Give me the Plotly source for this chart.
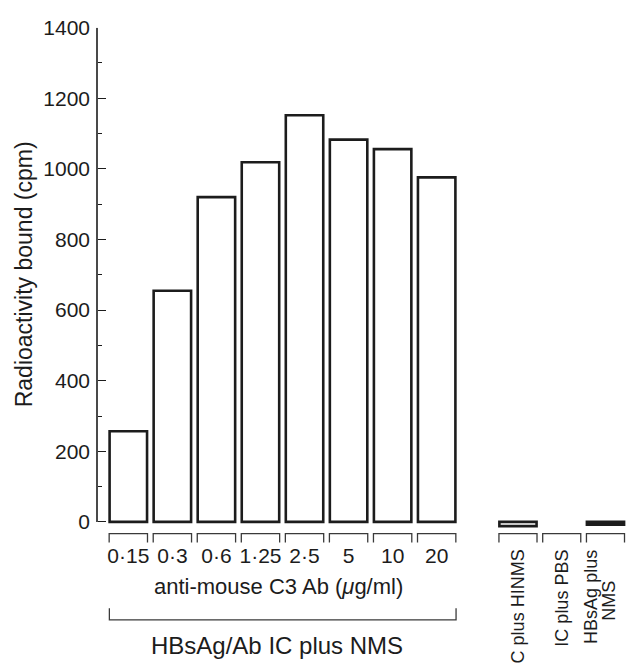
import plotly.graph_objects as go

# ---- data ----
concentrations = ["0·15", "0·3", "0·6", "1·25", "2·5", "5", "10", "20"]
radioactivity = [257, 655, 920, 1019, 1152, 1083, 1056, 976]
control_labels = ["C plus HINMS", "IC plus PBS", "HBsAg plus", "NMS"]
control_values = [12, None, 8]          # near-background counts, drawn just under the baseline
control_fill = ["white", "white", "#1a1a1a"]

W, H = 626, 670
FONT = "Liberation Sans, Arial, Helvetica, sans-serif"
INK = "#1c1c1c"


def px(x):
    return x / W


def py(y):
    return 1 - y / H


xi = list(range(len(concentrations)))
ci = list(range(len(control_values)))

fig = go.Figure()
fig.add_trace(go.Bar(
    x=xi, y=radioactivity, width=0.85,
    marker=dict(color="white", line=dict(color=INK, width=2.6)),
    xaxis="x", yaxis="y", showlegend=False, hoverinfo="y",
))
fig.add_trace(go.Bar(
    x=ci, y=control_values,
    base=[(-v if v is not None else None) for v in control_values],
    width=0.85,
    marker=dict(color=control_fill, line=dict(color=INK, width=2.6)),
    xaxis="x2", yaxis="y", showlegend=False, hoverinfo="skip",
))

tickfont = dict(family=FONT, size=21, color=INK)

fig.update_layout(
    width=W, height=H,
    margin=dict(l=0, r=0, t=0, b=0),
    paper_bgcolor="white", plot_bgcolor="white",
    font=dict(family=FONT, color=INK),
    xaxis=dict(
        domain=[px(106.3), px(458.7)], range=[-0.5, 7.5],
        tickvals=xi, ticktext=concentrations, tickfont=tickfont,
        anchor="free", position=py(539), showline=False, ticks="",
        showgrid=False, zeroline=False, fixedrange=True,
    ),
    xaxis2=dict(
        domain=[px(496.1), 1.0], range=[-0.5, 2.469],
        anchor="free", position=py(539), showticklabels=False, showline=False,
        ticks="", showgrid=False, zeroline=False, fixedrange=True,
    ),
    yaxis=dict(
        domain=[py(530.8), py(16)], range=[-30, 1400],
        anchor="free", position=px(97), side="left",
        showline=False, showgrid=False, zeroline=False,
        tick0=0, dtick=200, ticks="inside", ticklen=8, tickwidth=1.4, tickcolor=INK,
        minor=dict(dtick=100, ticks="inside", ticklen=4, tickwidth=1.2, tickcolor=INK),
        tickfont=tickfont, ticklabelstandoff=7, fixedrange=True,
    ),
    bargap=0.15,
)

shapes = []
# y axis line from 0 to 1400
shapes.append(dict(type="line", xref="paper", yref="y", x0=px(97), x1=px(97), y0=0, y1=1400,
                   line=dict(color=INK, width=1.6)))

BR = dict(color="#3a3a3a", width=1.3)
top, leg = py(532), py(541)
for i in xi:
    shapes.append(dict(type="path", xref="x", yref="paper",
                       path=f"M {i-0.435},{leg} L {i-0.435},{top} L {i+0.435},{top} L {i+0.435},{leg}",
                       line=BR))
for i in ci:
    shapes.append(dict(type="path", xref="x2", yref="paper",
                       path=f"M {i-0.435},{leg} L {i-0.435},{top} L {i+0.435},{top} L {i+0.435},{leg}",
                       line=BR))
# big bracket under the concentration series
b_top, b_bot = py(608), py(620)
x0, x1 = xi[0] - 0.43, xi[-1] + 0.44
shapes.append(dict(type="path", xref="x", yref="paper",
                   path=f"M {x0},{b_top} L {x0},{b_bot} L {x1},{b_bot} L {x1},{b_top}",
                   line=BR))
fig.update_layout(shapes=shapes)

ann = []
ann.append(dict(text="Radioactivity bound (cpm)", textangle=-90, xref="paper", yref="paper",
                x=px(24), y=py(267.5), xanchor="center", yanchor="middle", showarrow=False,
                font=dict(family=FONT, size=23, color=INK)))
ann.append(dict(text="anti-mouse C3 Ab (<i>μ</i>g/ml)", xref="paper", yref="paper",
                x=px(278.5), y=py(586), xanchor="center", yanchor="middle", showarrow=False,
                font=dict(family=FONT, size=22, color=INK)))
ann.append(dict(text="HBsAg/Ab IC plus NMS", xref="paper", yref="paper",
                x=px(277), y=py(646), xanchor="center", yanchor="middle", showarrow=False,
                font=dict(family=FONT, size=24, color=INK)))
lab_font = dict(family=FONT, size=18, color=INK)
ann.append(dict(text=control_labels[0], textangle=-90, xref="x2", yref="paper",
                x=ci[0], y=py(546), xanchor="center", yanchor="top", showarrow=False, font=lab_font))
ann.append(dict(text=control_labels[1], textangle=-90, xref="x2", yref="paper",
                x=ci[1], y=py(546), xanchor="center", yanchor="top", showarrow=False, font=lab_font))
ann.append(dict(text=control_labels[2], textangle=-90, xref="x2", yref="paper",
                x=ci[2], xshift=-14, y=py(546), xanchor="center", yanchor="top", showarrow=False,
                font=lab_font))
ann.append(dict(text=control_labels[3], textangle=-90, xref="x2", yref="paper",
                x=ci[2], xshift=4, y=py(600), xanchor="center", yanchor="middle", showarrow=False,
                font=lab_font))
fig.update_layout(annotations=ann)

fig.write_html("out.html", config=dict(displayModeBar=False))
